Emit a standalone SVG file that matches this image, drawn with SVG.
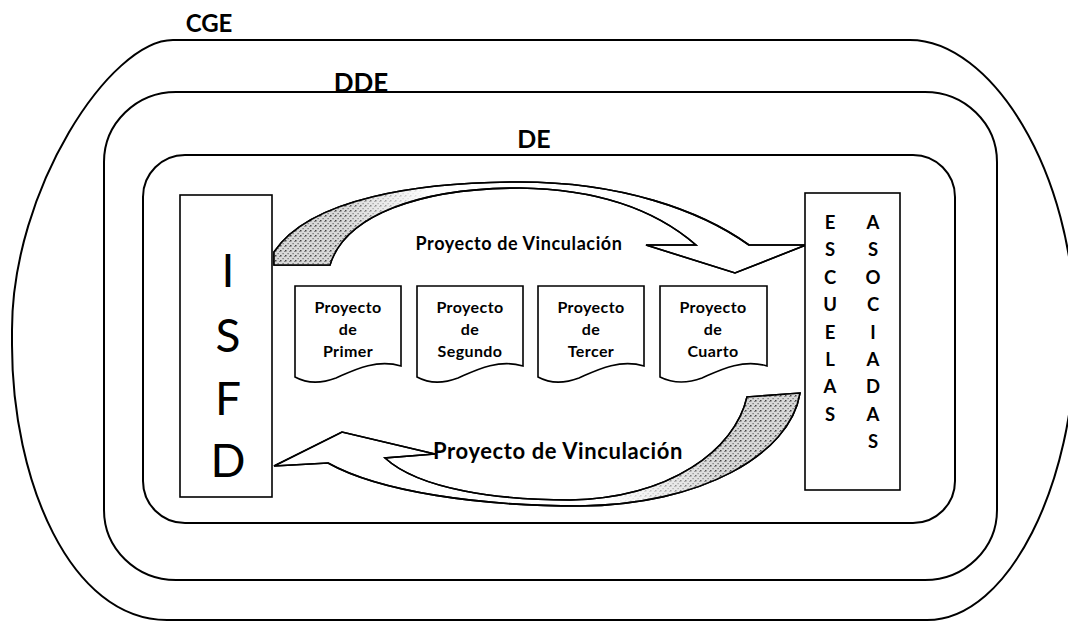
<svg xmlns="http://www.w3.org/2000/svg" width="1068" height="621" viewBox="0 0 1068 621">
<style>
.ring{fill:none;stroke:#000;stroke-width:2}
.box{fill:#fff;stroke:#000;stroke-width:1.6}
.arrow{fill:#fff;stroke:#000;stroke-width:1.6;stroke-linejoin:miter}
.lbl{font-family:Lato,"Liberation Sans",sans-serif;font-weight:bold;fill:#000}
.doc{font-family:Lato,"Liberation Sans",sans-serif;font-weight:bold;font-size:16px;letter-spacing:0.4px;text-anchor:middle;fill:#000}
.big{font-family:Lato,"Liberation Sans",sans-serif;font-weight:normal;font-size:46px;text-anchor:middle;fill:#000}
.col{font-family:Lato,"Liberation Sans",sans-serif;font-weight:bold;font-size:18.5px;text-anchor:middle;fill:#000}
</style>
<defs>
<pattern id="stip" width="5" height="5" patternUnits="userSpaceOnUse">
<rect width="5" height="5" fill="#d8d8d8"/>
<rect x="0" y="0" width="1.5" height="1.5" fill="#444"/>
<rect x="2.5" y="3" width="1.2" height="1.2" fill="#666"/>
<rect x="4" y="1" width="1" height="1" fill="#888"/>
</pattern>
<linearGradient id="fadeR" x1="0" y1="0" x2="1" y2="0">
<stop offset="0" stop-color="#fff"/><stop offset="0.45" stop-color="#fff"/><stop offset="1" stop-color="#000"/>
</linearGradient>
<linearGradient id="fadeL" x1="0" y1="0" x2="1" y2="0">
<stop offset="0" stop-color="#000"/><stop offset="0.55" stop-color="#fff"/><stop offset="1" stop-color="#fff"/>
</linearGradient>
<mask id="mTop" maskUnits="userSpaceOnUse" x="270" y="170" width="160" height="100"><rect x="270" y="170" width="160" height="100" fill="url(#fadeR)"/></mask>
<mask id="mBot" maskUnits="userSpaceOnUse" x="610" y="380" width="200" height="130"><rect x="610" y="380" width="200" height="130" fill="url(#fadeL)"/></mask>
<path id="topShape" d="M274,252 C310,198 420,182 520,182 C620,182 700,210 749,245 L806,245 L735,273 L646,245 L696,245 C650,205 590,189 520,188 C420,188 345,215 330,265 L274,265 Z"/>
<path id="botShape" d="M274,466 L342,432 L435,454 L385,458 C420,490 500,500 570,500 C670,498 735,450 747,397 L800,393 C790,455 700,505 580,506 C480,506 380,492 328,463 Z"/>
<clipPath id="cTop"><use href="#topShape"/></clipPath>
<clipPath id="cBot"><use href="#botShape"/></clipPath>
</defs>
<g id="CGE">
<path class="ring" d="M173,40 L910,40 C990,40 1075,170 1075,330 L1075,340 C1075,480 1010,620 927,620 L167,620 C70,620 12,480 12,345 L12,330 C12,190 110,40 173,40 Z"/>
<text class="lbl" x="209" y="32" font-size="24" text-anchor="middle">CGE</text>
</g>
<g id="DDE">
<rect class="ring" x="104" y="92" width="893" height="488" rx="72" ry="70"/>
<text class="lbl" x="361" y="92" font-size="26" text-anchor="middle">DDE</text>
</g>
<g id="DE">
<rect class="ring" x="143" y="155" width="812" height="368" rx="42" ry="42" stroke-width="2.4"/>
<text class="lbl" x="534" y="148" font-size="25" text-anchor="middle">DE</text>
</g>
<g id="connectors">
<g id="arrow-top">
<use href="#topShape" class="arrow"/>
<g clip-path="url(#cTop)"><rect x="270" y="170" width="160" height="100" fill="url(#stip)" mask="url(#mTop)"/></g>
<use href="#topShape" class="arrow" style="fill:none"/>
<text class="lbl" x="519" y="250" font-size="18" letter-spacing="0.6" text-anchor="middle">Proyecto de Vinculación</text>
</g>
<g id="arrow-bottom">
<use href="#botShape" class="arrow"/>
<g clip-path="url(#cBot)"><rect x="610" y="380" width="200" height="130" fill="url(#stip)" mask="url(#mBot)"/></g>
<use href="#botShape" class="arrow" style="fill:none"/>
<text class="lbl" x="558" y="459" font-size="22" letter-spacing="0.6" text-anchor="middle">Proyecto de Vinculación</text>
</g>
</g>
<g id="ISFD">
<rect class="box" x="180" y="195" width="92" height="302"/>
<text class="big" x="228" y="287">I</text>
<text class="big" x="228" y="352">S</text>
<text class="big" x="228" y="415">F</text>
<text class="big" x="228" y="477">D</text>
</g>
<g id="escuelas">
<rect class="box" x="805" y="193" width="95" height="297"/>
<text class="col" x="830" y="229">E</text>
<text class="col" x="830" y="256.4">S</text>
<text class="col" x="830" y="283.8">C</text>
<text class="col" x="830" y="311.2">U</text>
<text class="col" x="830" y="338.6">E</text>
<text class="col" x="830" y="366">L</text>
<text class="col" x="830" y="393.4">A</text>
<text class="col" x="830" y="420.8">S</text>
<text class="col" x="873" y="229">A</text>
<text class="col" x="873" y="256.4">S</text>
<text class="col" x="873" y="283.8">O</text>
<text class="col" x="873" y="311.2">C</text>
<text class="col" x="873" y="338.6">I</text>
<text class="col" x="873" y="366">A</text>
<text class="col" x="873" y="393.4">D</text>
<text class="col" x="873" y="420.8">A</text>
<text class="col" x="873" y="448.2">S</text>
</g>
<g id="p1">
<path class="box" d="M295,286 H401 V366 C375,358 350,372 336,378 C320,384 306,383 295,377 Z"/>
<text class="doc" x="348" y="313">Proyecto</text><text class="doc" x="348" y="335">de</text><text class="doc" x="348" y="357">Primer</text>
</g>
<g id="p2">
<path class="box" d="M417,286 H523 V366 C497,358 472,372 458,378 C442,384 428,383 417,377 Z"/>
<text class="doc" x="470" y="313">Proyecto</text><text class="doc" x="470" y="335">de</text><text class="doc" x="470" y="357">Segundo</text>
</g>
<g id="p3">
<path class="box" d="M538,286 H644 V366 C618,358 593,372 579,378 C563,384 549,383 538,377 Z"/>
<text class="doc" x="591" y="313">Proyecto</text><text class="doc" x="591" y="335">de</text><text class="doc" x="591" y="357">Tercer</text>
</g>
<g id="p4">
<path class="box" d="M660,286 H767 V366 C741,358 716,372 702,378 C686,384 672,383 660,377 Z"/>
<text class="doc" x="713" y="313">Proyecto</text><text class="doc" x="713" y="335">de</text><text class="doc" x="713" y="357">Cuarto</text>
</g>
</svg>
